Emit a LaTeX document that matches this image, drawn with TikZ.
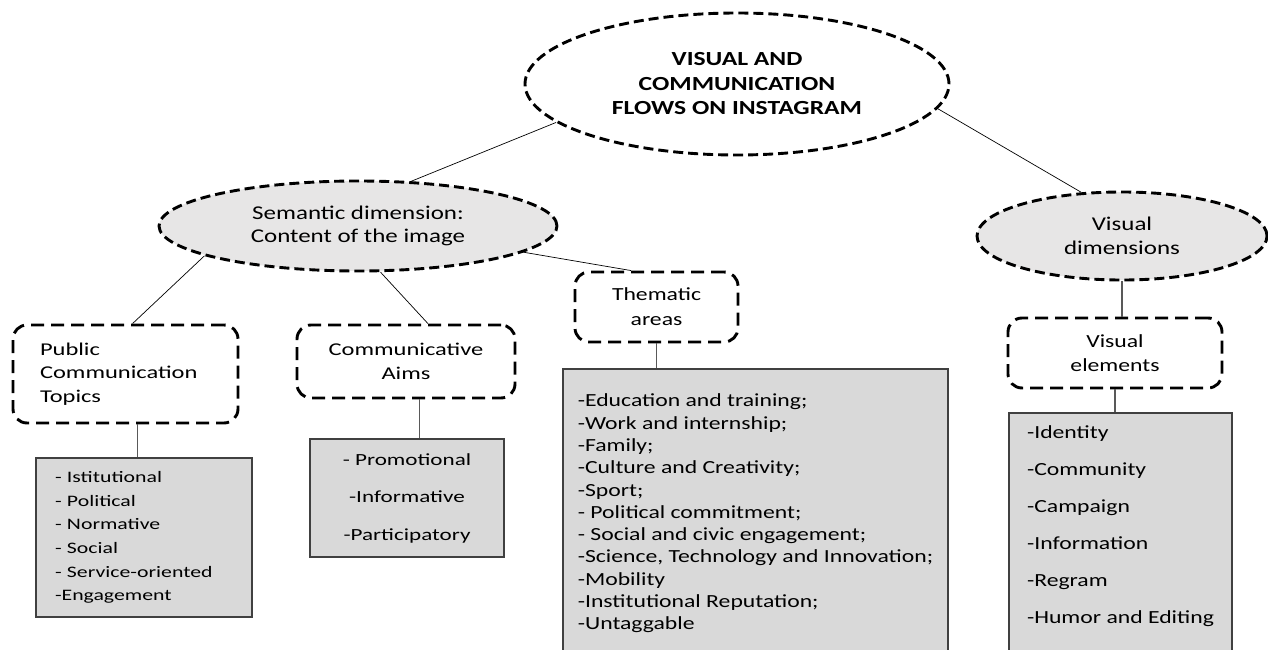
\documentclass[tikz,border=0pt]{standalone}
\usepackage{fontspec}
\setmainfont{Carlito}[FakeStretch=1.28]
\newfontfamily\widefont{Carlito}[FakeStretch=1.36]
\usetikzlibrary{shapes.geometric}
\definecolor{ovalfill}{HTML}{E7E6E6}
\definecolor{listfill}{HTML}{D9D9D9}
\definecolor{listedge}{HTML}{404040}
\definecolor{stemgray}{HTML}{595959}
\tikzset{
  dashedge/.style={draw=black, line width=2.9pt},
  oval/.style={ellipse, dashedge, dash pattern=on 10pt off 5pt, inner sep=0pt, align=center},
  category/.style={rectangle, dashedge, dash pattern=on 13pt off 7pt, rounded corners=14pt, inner sep=0pt},
  itemlist/.style={rectangle, draw=listedge, line width=1.3pt, fill=listfill, inner sep=0pt},
  branch/.style={draw=black, line width=0.7pt},
  stemline/.style={draw=stemgray, line width=1.2pt},
}
\begin{document}
\begin{tikzpicture}[x=1pt,y=-1pt]
  \useasboundingbox (0,0) rectangle (1268,650);
  \clip (0,0) rectangle (1268,650);
  % ovals
  \node[oval, minimum width=424pt, minimum height=142pt,
    font=\fontsize{20}{24.5}\selectfont\bfseries] (root) at (737,84)
    {VISUAL AND\\COMMUNICATION\\FLOWS ON INSTAGRAM};
  \node[oval, fill=ovalfill, minimum width=398pt, minimum height=90pt,
    font=\fontsize{19.5}{23}\selectfont] (sem) at (358,226)
    {Semantic dimension:\\Content of the image};
  \node[oval, fill=ovalfill, minimum width=290pt, minimum height=88pt,
    font=\fontsize{19.5}{24}\selectfont] (vis) at (1122,236)
    {Visual\\dimensions};
  % categories
  \node[category, minimum width=225pt, minimum height=98pt, text width=171pt, align=left,
    font=\widefont\fontsize{18}{23.5}\selectfont] (pct) at (125.5,374)
    {Public\\Communication\\Topics};
  \node[category, minimum width=218pt, minimum height=73pt, align=center,
    font=\widefont\fontsize{18}{24}\selectfont] (comm) at (406,361.5)
    {Communicative\\Aims};
  \node[category, minimum width=163pt, minimum height=70pt, align=center,
    font=\fontsize{18.5}{25}\selectfont] (them) at (656.5,307)
    {Thematic\\areas};
  \node[category, minimum width=214pt, minimum height=70pt, align=center,
    font=\fontsize{18.5}{24}\selectfont] (ve) at (1115,353)
    {Visual\\elements};
  % lists
  \node[itemlist, minimum width=216pt, minimum height=159pt, text width=178pt, align=left,
    font=\widefont\fontsize{16}{23.6}\selectfont] (topiclist) at (144,537.5)
    {- Istitutional\\- Political\\- Normative\\- Social\\- Service-oriented\\-Engagement};
  \node[itemlist, minimum width=194pt, minimum height=118pt, align=center,
    font=\widefont\fontsize{17}{37.5}\selectfont] (aimlist) at (407,498)
    {- Promotional\\-Informative\\-Participatory};
  \node[itemlist, minimum width=385pt, minimum height=289pt, align=left,
    font=\fontsize{18.5}{22.3}\selectfont] (themelist) at (755.5,513.5)
    {-Education and training;\\-Work and internship;\\-Family;\\-Culture and Creativity;\\-Sport;\\
     - Political commitment;\\- Social and civic engagement;\\-Science, Technology and Innovation;\\
     -Mobility\\-Institutional Reputation;\\-Untaggable};
  \node[itemlist, minimum width=223pt, minimum height=260pt, align=left,
    font=\fontsize{18.5}{37}\selectfont] (visuallist) at (1120.5,543)
    {-Identity\\-Community\\-Campaign\\-Information\\-Regram\\-Humor and Editing\\\mbox{}};
  % connectors
  \draw[branch] (root.192.5) -- (sem.40);
  \draw[branch] (root.353.6) -- (vis.133.5);
  \draw[branch] (sem.191.4) -- (pct.82);
  \draw[branch] (sem.296.6) -- (comm.60);
  \draw[branch] (sem.351.7) -- (them.125);
  \draw[stemline] (vis.south) -- (vis.south |- ve.north);
  \draw[stemline] (pct.283) -- (pct.283 |- topiclist.north);
  \draw[stemline] (comm.290) -- (comm.290 |- aimlist.north);
  \draw[stemline] (them.south) -- (them.south |- themelist.north);
  \draw[stemline] (ve.south) -- (ve.south |- visuallist.north);
\end{tikzpicture}
\end{document}
